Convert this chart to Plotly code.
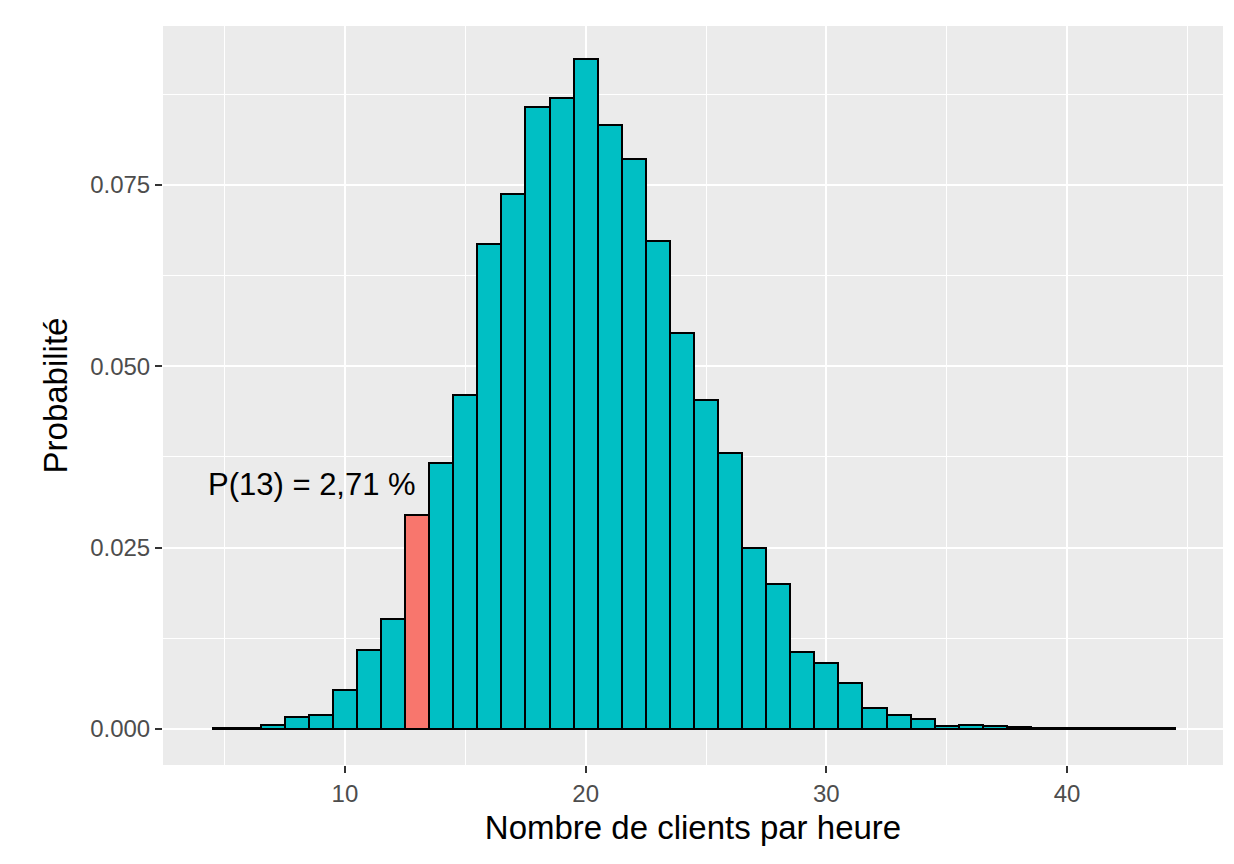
import plotly.graph_objects as go

clients = list(range(5, 45))
probs = [0.0001, 0.0001, 0.0005, 0.0017, 0.0019, 0.0054, 0.0109, 0.0152, 0.0295, 0.0367,
         0.0461, 0.0668, 0.0738, 0.0857, 0.0870, 0.0924, 0.0832, 0.0785, 0.0673, 0.0546,
         0.0454, 0.0381, 0.0250, 0.0200, 0.0106, 0.0091, 0.0063, 0.0029, 0.0019, 0.0014,
         0.0004, 0.0005, 0.0004, 0.0003, 0.0001, 0.0002, 0.0001, 0.0001, 0.0001, 0.0002]
highlight = 13
label = "P(13) = 2,71 %"

colors = ["#F8766D" if c == highlight else "#00BFC4" for c in clients]

fig = go.Figure(go.Bar(x=clients, y=probs, width=1, marker=dict(color=colors, line=dict(color="black", width=2))))
fig.add_annotation(x=13.05, y=probs[clients.index(highlight)] + 0.0015, text=label, showarrow=False,
                   xanchor="right", yanchor="bottom", font=dict(size=31, color="black"))

axis_common = dict(showline=False, zeroline=False, gridcolor="white", gridwidth=2.2,
                   ticks="outside", ticklen=7, tickcolor="#333333", tickwidth=2,
                   tickfont=dict(size=24, color="#4d4d4d"),
                   minor=dict(showgrid=True, gridcolor="white", gridwidth=1))
fig.update_xaxes(range=[2.44, 46.48], tickvals=[10, 20, 30, 40], minor_tickvals=[5, 15, 25, 35, 45],
                 title=dict(text="Nombre de clients par heure", font=dict(size=33, color="black"), standoff=10),
                 **axis_common)
fig.update_yaxes(range=[-0.00496, 0.0969], tickvals=[0, 0.025, 0.05, 0.075],
                 ticktext=["0.000", "0.025", "0.050", "0.075"],
                 minor_tickvals=[0.0125, 0.0375, 0.0625, 0.0875],
                 title=dict(text="Probabilité", font=dict(size=33, color="black"), standoff=12),
                 **axis_common)
fig.update_layout(width=1234, height=864, margin=dict(l=155, r=19, t=18, b=107),
                  plot_bgcolor="#EBEBEB", paper_bgcolor="white", showlegend=False, bargap=0,
                  font=dict(family="Liberation Sans, Arial, sans-serif"))
fig.write_html("out.html")
